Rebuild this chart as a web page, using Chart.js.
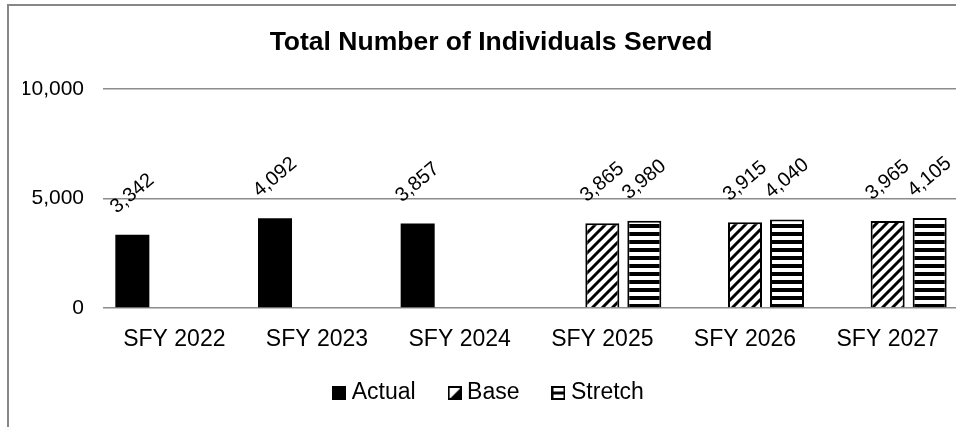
<!DOCTYPE html>
<html>
<head>
<meta charset="utf-8">
<script src="https://cdn.jsdelivr.net/npm/chart.js@4.4.1/dist/chart.umd.min.js"></script>
<style>
  html, body { margin: 0; padding: 0; overflow: hidden; background: #fff; }
  #wrap { width: 962px; height: 427px; }
</style>
</head>
<body>
<div id="wrap"><canvas id="myChart"></canvas></div>
<script>
var years = ['SFY 2022', 'SFY 2023', 'SFY 2024', 'SFY 2025', 'SFY 2026', 'SFY 2027'];
var actual = [3342, 4092, 3857, null, null, null];
var base = [null, null, null, 3865, 3915, 3965];
var stretch = [null, null, null, 3980, 4040, 4105];
var yTicks = [0, 5000, 10000];

var FONT = '"Liberation Sans", Arial, sans-serif';
Chart.defaults.font.family = FONT;
Chart.defaults.color = '#000';

// hatch fills
function diagPattern() {
    var c = document.createElement('canvas');
    c.width = 10; c.height = 10;
    var g = c.getContext('2d');
    g.fillStyle = '#fff';
    g.fillRect(0, 0, 10, 10);
    g.strokeStyle = '#000';
    g.lineWidth = 3;
    g.beginPath();
    g.moveTo(-2, 12); g.lineTo(12, -2);
    g.moveTo(-2, 2); g.lineTo(2, -2);
    g.moveTo(8, 12); g.lineTo(12, 8);
    g.stroke();
    return g.createPattern(c, 'repeat');
}
function stripePattern() {
    var c = document.createElement('canvas');
    c.width = 8; c.height = 8;
    var g = c.getContext('2d');
    g.fillStyle = '#fff';
    g.fillRect(0, 0, 8, 8);
    g.fillStyle = '#000';
    g.fillRect(0, 0, 8, 4);
    return g.createPattern(c, 'repeat');
}

// legend icons
function icon(kind) {
    var c = document.createElement('canvas');
    c.width = 14; c.height = 14;
    var g = c.getContext('2d');
    g.fillStyle = '#000';
    if (kind == 'solid') {
        g.fillRect(0, 0, 14, 14);
        return c;
    }
    g.strokeStyle = '#000';
    g.lineWidth = 2;
    g.strokeRect(1, 1, 12, 12);
    if (kind == 'diag') {
        g.beginPath();
        g.moveTo(13, 2); g.lineTo(13, 13); g.lineTo(2, 13);
        g.closePath();
        g.fill();
    } else {
        g.fillRect(1, 5.5, 12, 3);
    }
    return c;
}

var chartBorder = {
    id: 'chartBorder',
    beforeDraw: function(chart) {
        var ctx = chart.ctx;
        ctx.save();
        ctx.strokeStyle = '#878787';
        ctx.lineWidth = 2;
        ctx.strokeRect(8, 5, 2000, 2000);
        ctx.restore();
    }
};

var valueLabels = {
    id: 'valueLabels',
    afterDatasetsDraw: function(chart) {
        var ctx = chart.ctx;
        ctx.save();
        ctx.font = '20px ' + FONT;
        ctx.fillStyle = '#000';
        ctx.textAlign = 'center';
        ctx.textBaseline = 'middle';
        chart.data.datasets.forEach(function(ds, i) {
            chart.getDatasetMeta(i).data.forEach(function(bar, j) {
                var v = ds.data[j];
                if (v == null) return;
                ctx.save();
                ctx.translate(bar.x, bar.y - 41);
                ctx.rotate(-40 * Math.PI / 180);
                ctx.fillText(v.toLocaleString('en-US'), 0, 0);
                ctx.restore();
            });
        });
        ctx.restore();
    }
};

var ctx = document.getElementById('myChart').getContext('2d');
var myChart = new Chart(ctx, {
    type: 'bar',
    data: {
        labels: years,
        datasets: [{
            label: 'Actual',
            data: actual,
            backgroundColor: '#000',
            borderWidth: 0,
            pointStyle: icon('solid')
        }, {
            label: 'Base',
            data: base,
            backgroundColor: diagPattern(),
            borderColor: '#000',
            borderWidth: 2,
            pointStyle: icon('diag')
        }, {
            label: 'Stretch',
            data: stretch,
            backgroundColor: stripePattern(),
            borderColor: '#000',
            borderWidth: 2,
            pointStyle: icon('lines')
        }]
    },
    options: {
        responsive: true,
        maintainAspectRatio: false,
        animation: false,
        locale: 'en-US',
        categoryPercentage: 0.883,
        barPercentage: 0.81,
        layout: {
            padding: { left: 23, right: 3, top: 10, bottom: 12.5 }
        },
        scales: {
            x: {
                grid: { display: false },
                border: { display: false },
                ticks: {
                    font: { size: 23 },
                    padding: 10,
                    maxRotation: 0,
                    autoSkip: false
                },
                afterFit: function(s) {
                    s.height = 35.5;
                    // the labels hang a little below the axis box, don't clip them
                    s._computeLabelArea = function() {};
                }
            },
            y: {
                min: 0,
                max: 10000,
                afterBuildTicks: function(s) {
                    s.ticks = yTicks.map(function(v) { return { value: v }; });
                },
                grid: { color: '#8c8c8c', lineWidth: 1.5, drawTicks: false },
                border: { display: false },
                ticks: {
                    font: { size: 21 },
                    padding: 19
                },
                afterFit: function(s) { s.width = 80; }
            }
        },
        plugins: {
            title: {
                display: true,
                text: 'Total Number of Individuals Served',
                font: { size: 26.5, weight: 'bold' },
                color: '#000',
                padding: { top: 17, bottom: 30 }
            },
            legend: {
                display: true,
                position: 'bottom',
                labels: {
                    usePointStyle: true,
                    pointStyleWidth: 2,
                    padding: 38,
                    font: { size: 23 }
                }
            },
            tooltip: { enabled: false }
        }
    },
    plugins: [chartBorder, valueLabels]
});
</script>
</body>
</html>
